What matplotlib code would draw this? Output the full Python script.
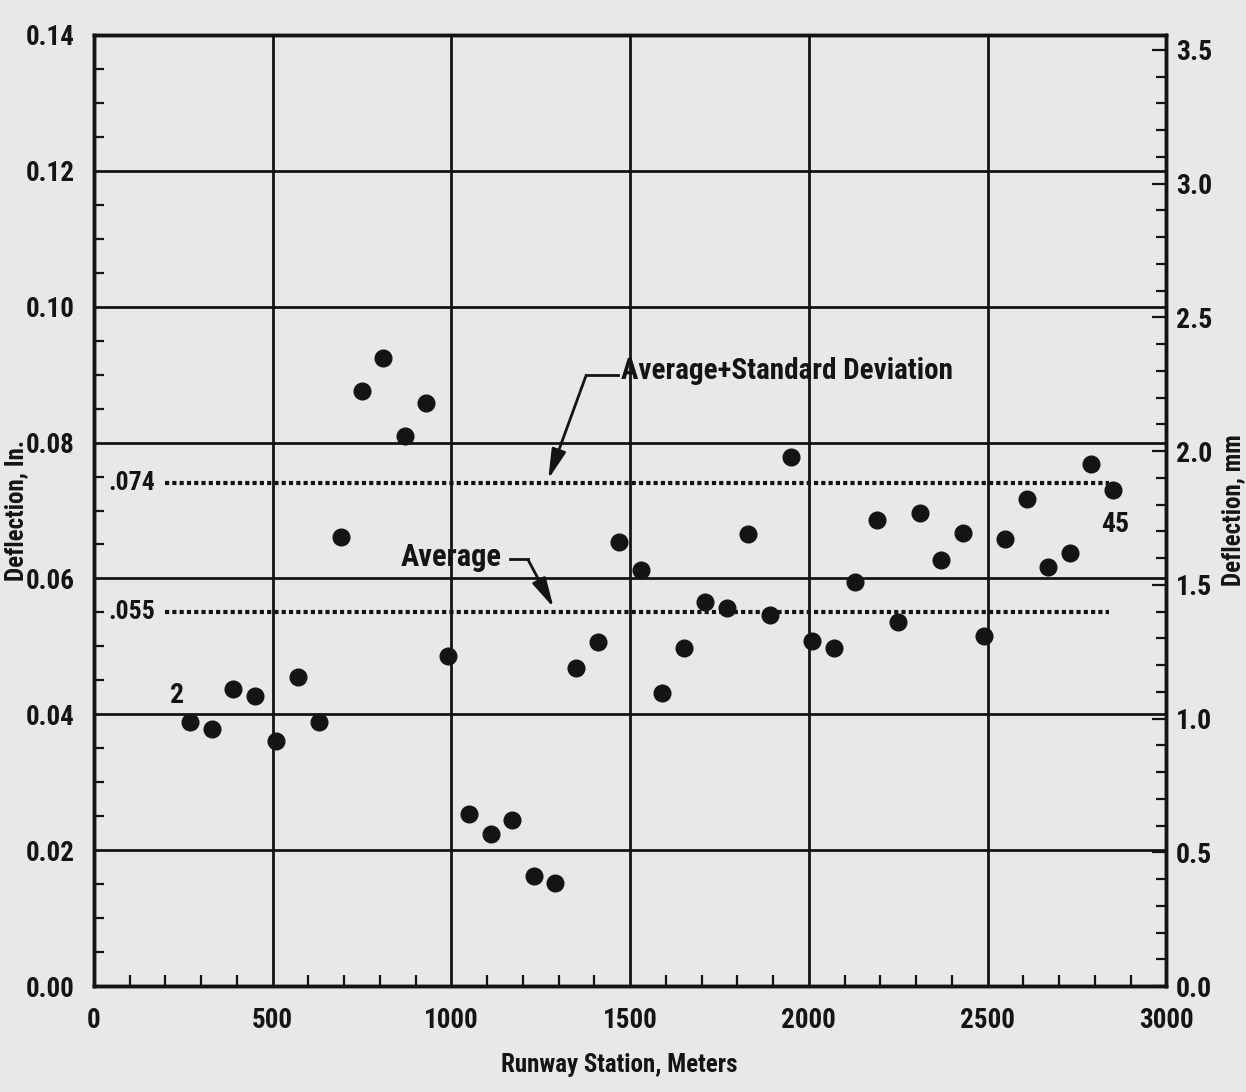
import numpy as np
import matplotlib
matplotlib.use("Agg")
import matplotlib.pyplot as plt
from matplotlib import font_manager
from matplotlib.ticker import MultipleLocator, FixedLocator, FixedFormatter

# ---------------- data ----------------
stations = [270, 330, 390, 450, 510, 570, 630, 690, 750, 810,
            870, 930, 990, 1050, 1110, 1170, 1230, 1290, 1350, 1410,
            1470, 1530, 1590, 1650, 1710, 1770, 1830, 1890, 1950, 2010,
            2070, 2130, 2190, 2250, 2310, 2370, 2430, 2490, 2550, 2610,
            2670, 2730, 2790, 2850]
deflection_in = [0.0389, 0.0378, 0.0438, 0.0427, 0.0360, 0.0455, 0.0389, 0.0661, 0.0876, 0.0924,
                 0.0810, 0.0858, 0.0486, 0.0254, 0.0224, 0.0244, 0.0162, 0.0152, 0.0468, 0.0507,
                 0.0654, 0.0613, 0.0432, 0.0498, 0.0566, 0.0556, 0.0666, 0.0546, 0.0779, 0.0508,
                 0.0498, 0.0595, 0.0686, 0.0536, 0.0697, 0.0627, 0.0667, 0.0516, 0.0658, 0.0717,
                 0.0617, 0.0637, 0.0769, 0.0730]
average = 0.055
average_plus_sd = 0.074
ref_line_span = [200, 2840]

x_ticks = [0, 500, 1000, 1500, 2000, 2500, 3000]
x_tick_labels = ["0", "500", "1000", "1500", "2000", "2500", "3000"]
y_ticks_in = [0.00, 0.02, 0.04, 0.06, 0.08, 0.10, 0.12, 0.14]
y_tick_labels_in = ["0.00", "0.02", "0.04", "0.06", "0.08", "0.10", "0.12", "0.14"]
y_ticks_mm = [0.0, 0.5, 1.0, 1.5, 2.0, 2.5, 3.0, 3.5]
y_tick_labels_mm = ["0.0", "0.5", "1.0", "1.5", "2.0", "2.5", "3.0", "3.5"]

# ---------------- fonts ----------------
def pick_font(cands):
    for c in cands:
        try:
            font_manager.findfont(font_manager.FontProperties(family=c), fallback_to_default=False)
            return c, True
        except Exception:
            continue
    return "Liberation Sans", False

fam, narrow = pick_font(["Roboto Condensed", "PT Sans Narrow", "Liberation Sans Narrow"])
k = 1.0 if narrow else 0.82
plt.rcParams["font.family"] = [fam, "DejaVu Sans"]
WEIGHT = "bold"

ink = "#141414"
bg = "#e8e8e6"

fig = plt.figure(figsize=(12.46, 10.92), dpi=100, facecolor=bg)
ax = fig.add_axes([0.0754, 0.097, 0.8606, 0.871])
ax.set_facecolor(bg)
ax.set_xlim(0, 3000)
ax.set_ylim(0, 0.14)

ax.xaxis.set_major_locator(FixedLocator(x_ticks))
ax.xaxis.set_major_formatter(FixedFormatter(x_tick_labels))
ax.xaxis.set_minor_locator(MultipleLocator(100))
ax.yaxis.set_major_locator(FixedLocator(y_ticks_in))
ax.yaxis.set_major_formatter(FixedFormatter(y_tick_labels_in))
ax.yaxis.set_minor_locator(MultipleLocator(0.005))

ax.grid(which="major", color=ink, lw=2.0, zorder=1)
ax.set_axisbelow(True)
ax.tick_params(which="both", direction="in", top=False, right=False, color=ink,
               labelcolor=ink, width=1.6)
ax.tick_params(which="major", length=0, labelsize=19.5 * k, pad=14)
ax.tick_params(axis="y", which="minor", length=7)
ax.tick_params(axis="x", which="minor", length=8)
ax.tick_params(axis="x", which="major", pad=15)
for lab in ax.get_xticklabels() + ax.get_yticklabels():
    lab.set_fontweight(WEIGHT)
for s in ax.spines.values():
    s.set_linewidth(2.5)
    s.set_color(ink)

ax2 = ax.twinx()
ax2.set_ylim(0, 0.14 * 25.4)
ax2.yaxis.set_major_locator(FixedLocator(y_ticks_mm))
ax2.yaxis.set_major_formatter(FixedFormatter(y_tick_labels_mm))
ax2.yaxis.set_minor_locator(MultipleLocator(0.1))
ax2.tick_params(which="both", direction="in", color=ink, labelcolor=ink, width=1.6)
ax2.tick_params(which="major", length=10, labelsize=20 * k, pad=7)
ax2.tick_params(which="minor", length=7)
for lab in ax2.get_yticklabels():
    lab.set_fontweight(WEIGHT)
for s in ax2.spines.values():
    s.set_linewidth(2.5)
    s.set_color(ink)

# data points
ax.plot(stations, deflection_in, "o", color=ink, ms=12, zorder=5)

# reference dotted lines
for val in (average, average_plus_sd):
    ax.plot(ref_line_span, [val, val], color=ink, lw=3.0,
            ls=(0, (1, 0.75)), dash_capstyle="butt", zorder=4)

ax.text(172, average_plus_sd, ".074", ha="right", va="center", fontsize=18.5 * k,
        fontweight=WEIGHT, color=ink)
ax.text(172, average, ".055", ha="right", va="center", fontsize=18.5 * k,
        fontweight=WEIGHT, color=ink)
ax.text(233, 0.0428, "2", ha="center", va="center", fontsize=20 * k,
        fontweight=WEIGHT, color=ink)
ax.text(2858, 0.0680, "45", ha="center", va="center", fontsize=20 * k,
        fontweight=WEIGHT, color=ink)

# annotations
arrow_kw = dict(arrowstyle="-|>,head_length=0.9,head_width=0.22", color=ink,
                lw=2.0, shrinkA=0, shrinkB=0, mutation_scale=20)
ax.text(1474, 0.0905, "Average+Standard Deviation", ha="left", va="center",
        fontsize=21 * k, fontweight=WEIGHT, color=ink)
ax.plot([1466, 1377], [0.0899, 0.0899], color=ink, lw=2.0)
ax.annotate("", xy=(1271, 0.0746), xytext=(1377, 0.0899), arrowprops=arrow_kw)

ax.text(1140, 0.0632, "Average", ha="right", va="center",
        fontsize=22 * k, fontweight=WEIGHT, color=ink)
ax.plot([1165, 1214], [0.0628, 0.0628], color=ink, lw=2.0)
ax.annotate("", xy=(1286, 0.0557), xytext=(1214, 0.0628), arrowprops=arrow_kw)

# axis labels
ax.set_xlabel("Runway Station, Meters", fontsize=18 * k, fontweight=WEIGHT, color=ink)
ax.xaxis.set_label_coords(0.49, -0.083)
ax.xaxis.label.set_va("center")
ax.set_ylabel("Deflection, In.", fontsize=18 * k, fontweight=WEIGHT, color=ink)
ax.yaxis.set_label_coords(-0.0725, 0.5)
ax.yaxis.label.set_va("center")
ax2.set_ylabel("Deflection, mm", fontsize=18 * k, fontweight=WEIGHT, color=ink, rotation=90)
ax2.yaxis.set_label_coords(1.0625, 0.5)
ax2.yaxis.label.set_va("center")

fig.savefig("out.png", dpi=100, facecolor=bg)
